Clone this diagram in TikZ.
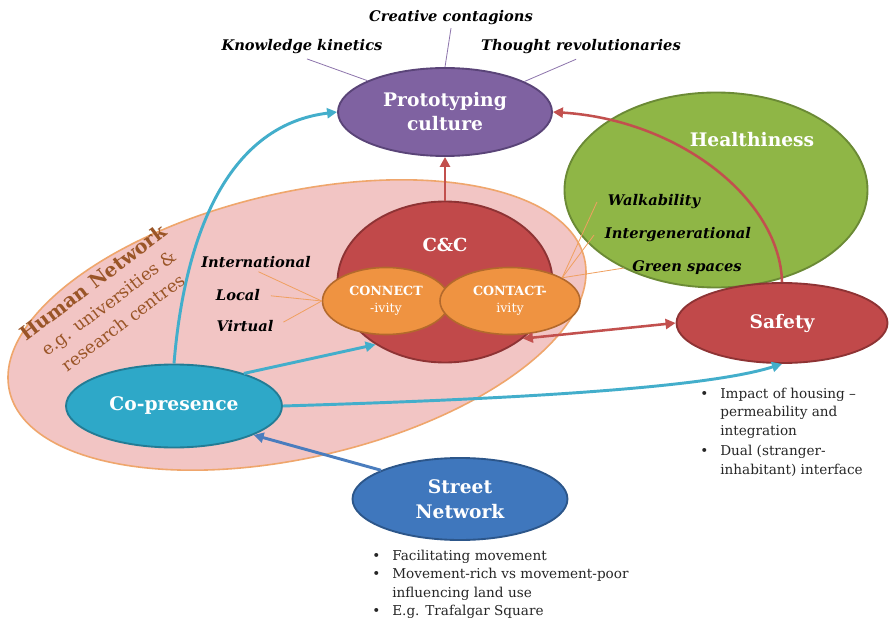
\documentclass[tikz,border=0pt]{standalone}
\usepackage{fontspec}
\setmainfont{DejaVu Serif}
\usetikzlibrary{shapes.geometric,arrows.meta}

\definecolor{pinkfill}{HTML}{F2C5C4}
\definecolor{pinkedge}{HTML}{EFA66C}
\definecolor{purplefill}{HTML}{7F62A1}
\definecolor{purpleedge}{HTML}{5A4478}
\definecolor{greenfill}{HTML}{8FB646}
\definecolor{greenedge}{HTML}{6B8A35}
\definecolor{redfill}{HTML}{C1494A}
\definecolor{rededge}{HTML}{8E3334}
\definecolor{orangefill}{HTML}{EF9341}
\definecolor{orangeedge}{HTML}{B3692C}
\definecolor{aquafill}{HTML}{2EA8C8}
\definecolor{aquaedge}{HTML}{227C95}
\definecolor{bluefill}{HTML}{3F77BD}
\definecolor{blueedge}{HTML}{2C568A}
\definecolor{aquaarrow}{HTML}{43AECB}
\definecolor{redarrow}{HTML}{C2504E}
\definecolor{bluearrow}{HTML}{4A7DBE}
\definecolor{hnbrown}{HTML}{9A5527}
\definecolor{spokeorange}{HTML}{F0A060}
\definecolor{spokepurple}{HTML}{8D74AC}

\tikzset{
  esize/.style 2 args={minimum width=#1*0.75pt, minimum height=#2*0.75pt},
  bubble/.style={ellipse, draw, line width=1.4pt, inner sep=0pt, align=center,
    text=white, font=\bfseries\fontsize{14}{18}\selectfont},
  lobe/.style={bubble, fill=orangefill, draw=orangeedge, line width=1.2pt,
    font=\fontsize{9.5}{12.5}\selectfont},
  tag/.style={font=\bfseries\itshape\fontsize{11}{12}\selectfont, text=black, inner sep=2pt},
  notes/.style={font=\fontsize{10.2}{13.9}\selectfont, text=black!85, inner sep=0pt, anchor=base west},
  tip/.tip={Triangle[length=7.5pt,width=7.5pt]},
  flow/.style={line width=2.2pt, -tip},
  aquaflow/.style={flow, draw=aquaarrow},
  redflow/.style={flow, line width=1.9pt, draw=redarrow},
  blueflow/.style={flow, draw=bluearrow},
  spoke/.style={line width=0.6pt, draw=spokeorange},
  pspoke/.style={line width=0.6pt, draw=spokepurple}
}

\begin{document}
\begin{tikzpicture}[x=0.75pt,y=0.75pt]
\fill[white] (0,0) rectangle (889,-620);
\useasboundingbox (0,0) rectangle (889,-620);

% background regions
\node[ellipse, esize={590}{265}, rotate=13, fill=pinkfill, draw=pinkedge, line width=1.2pt]
  (hn) at (297,-325) {};
\node[ellipse, esize={303}{195}, fill=greenfill, draw=greenedge, line width=1.4pt]
  (health) at (716,-190) {};

% core circle and its two lobes
\node[bubble, esize={215}{161}, fill=redfill, draw=rededge] (cc) at (445,-282) {};
\node[lobe, esize={127}{67}] (connect) at (386,-301) {\textbf{CONNECT}\\-ivity};
\node[lobe, esize={140}{67}] (contact) at (510,-301) {\textbf{CONTACT-}\\ivity};

% outer bubbles
\node[bubble, esize={214}{88}, fill=purplefill, draw=purpleedge] (proto) at (445,-112) {Prototyping\\culture};
\node[bubble, esize={211}{80}, fill=redfill, draw=rededge] (safety) at (782,-323) {Safety};
\node[bubble, esize={216}{83}, fill=aquafill, draw=aquaedge] (copres) at (174,-406) {Co-presence};
\node[bubble, esize={215}{82}, fill=bluefill, draw=blueedge, font=\bfseries\fontsize{14}{18.75}\selectfont]
  (street) at (460,-499) {Street\\Network};

% titles placed inside shapes
\node[text=white, font=\bfseries\fontsize{14}{18}\selectfont] (healthtxt) at (752,-140) {Healthiness};
\node[text=white, font=\bfseries\fontsize{13.5}{16}\selectfont] (cctxt) at (445,-245) {C\&C};
\node[rotate=37, align=center, text=hnbrown, font=\fontsize{13}{18.5}\selectfont] (hntxt) at (108,-302)
  {{\bfseries\fontsize{14.5}{18.5}\selectfont Human Network}\\e.g. universities \&\\research centres};

% italic tags
\node[tag] (cre) at (451,-18) {Creative contagions};
\node[tag] (know) at (302,-47) {Knowledge kinetics};
\node[tag] (thought) at (581,-47) {Thought revolutionaries};
\node[tag] (intl) at (256,-262) {International};
\node[tag] (local) at (238,-295) {Local};
\node[tag] (virt) at (245,-326) {Virtual};
\node[tag] (walk) at (654,-202) {Walkability};
\node[tag] (inter) at (678,-235) {Intergenerational};
\node[tag] (green) at (687,-268) {Green spaces};

% spokes
\draw[pspoke] (cre.south) -- (proto.north);
\draw[pspoke, shorten <=4pt] (know.south) -- (proto.158);
\draw[pspoke, shorten <=4pt] (thought.south) -- (proto.21);
\draw[spoke, shorten <=2pt] (intl.south) -- (connect.west);
\draw[spoke, shorten <=6pt] (local.east) -- (connect.west);
\draw[spoke, shorten <=6pt] (virt.east) -- (connect.west);
\draw[spoke] (contact.24) -- ([xshift=-6pt]walk.west);
\draw[spoke] (contact.24) -- ([xshift=-6pt]inter.west);
\draw[spoke] (contact.24) -- ([xshift=-4pt]green.west);

% flows
\draw[aquaflow] (copres.north) .. controls (185,-230) and (230,-125) .. (proto.west);
\draw[aquaflow] (copres.25) -- (cc.222);
\draw[aquaflow] (copres.east) .. controls (480,-400) and (700,-390) .. (safety.south);
\draw[blueflow] (street.160) -- (copres.340);
\draw[redflow] (cc.north) -- (proto.south);
\draw[redflow, tip-tip] (cc.324) -- (safety.west);
\draw[redflow] (safety.north) .. controls (780,-200) and (680,-120) .. (proto.east);

% notes
\node[notes] (safetynotes) at (700,-398) {\begin{tabular}[t]{@{}l@{\hspace{9pt}}l@{}}
\textbullet & Impact of housing –\\
 & permeability and\\
 & integration\\[1.5pt]
\textbullet & Dual (stranger-\\
 & inhabitant) interface
\end{tabular}};
\node[notes] (streetnotes) at (372,-560) {\begin{tabular}[t]{@{}l@{\hspace{9pt}}l@{}}
\textbullet & Facilitating movement\\
\textbullet & Movement-rich vs movement-poor\\
 & influencing land use\\
\textbullet & E.g. Trafalgar Square
\end{tabular}};
\end{tikzpicture}
\end{document}
